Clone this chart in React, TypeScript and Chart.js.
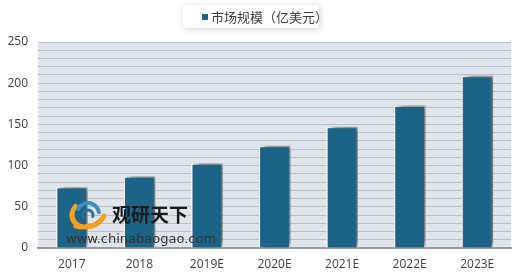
import React, { useEffect, useRef } from "react";
import { Chart, registerables } from "chart.js";

Chart.register(...registerables);

const categories = ["2017", "2018", "2019E", "2020E", "2021E", "2022E", "2023E"];
const marketSize = [74, 87, 103, 124, 147, 173, 209];
const seriesLabel = "市场规模（亿美元）";
const yTickLabels = [0, 50, 100, 150, 200, 250];
const watermarkTitle = "观研天下";
const watermarkUrl = "www.chinabaogao.com";

const BAR = "#1b6487";

const decorPlugin = {
  id: "decor",
  beforeDraw(chart: any) {
    const { ctx, chartArea } = chart;
    ctx.save();
    ctx.fillStyle = "#ffffff";
    ctx.fillRect(0, 0, chart.width, chart.height);
    ctx.fillStyle = "#dfe5ea";
    ctx.fillRect(chartArea.left, chartArea.top, chartArea.right - chartArea.left, chartArea.bottom - chartArea.top);
    // legend box
    ctx.shadowColor = "rgba(0,0,0,0.18)";
    ctx.shadowBlur = 6;
    ctx.shadowOffsetX = 1;
    ctx.shadowOffsetY = 1;
    ctx.fillStyle = "#ffffff";
    ctx.fillRect(183, 5, 136, 23);
    ctx.restore();
    ctx.save();
    ctx.fillStyle = BAR;
    ctx.fillRect(202, 14, 6, 6);
    ctx.fillStyle = "#404040";
    ctx.font = "13px 'Noto Sans CJK SC'";
    ctx.textBaseline = "middle";
    ctx.fillText(chart.data.datasets[0].label, 211, 17.5);
    ctx.restore();
  },
  beforeDatasetsDraw(chart: any) {
    const ctx = chart.ctx;
    ctx.save();
    ctx.shadowColor = "rgba(30,30,30,0.65)";
    ctx.shadowBlur = 6;
    ctx.shadowOffsetX = 4;
    ctx.shadowOffsetY = -2;
  },
  afterDatasetsDraw(chart: any) {
    const ctx = chart.ctx;
    ctx.restore();
    // watermark
    ctx.save();
    ctx.lineCap = "round";
    ctx.strokeStyle = "#f4a021";
    ctx.lineWidth = 5;
    ctx.beginPath();
    ctx.arc(84, 215, 12, Math.PI * 0.55, Math.PI * 1.25);
    ctx.stroke();
    ctx.beginPath();
    ctx.moveTo(76, 226);
    ctx.quadraticCurveTo(96, 230, 104, 216);
    ctx.stroke();
    ctx.strokeStyle = "#3a8fc4";
    ctx.lineWidth = 4;
    ctx.beginPath();
    ctx.arc(88, 214, 11, Math.PI * 1.15, Math.PI * 1.95);
    ctx.stroke();
    ctx.strokeStyle = "#2a6f9e";
    ctx.lineWidth = 3;
    ctx.beginPath();
    ctx.arc(88, 215, 5, Math.PI * 0.9, Math.PI * 2.1);
    ctx.stroke();
    ctx.fillStyle = "#1a1a1a";
    ctx.font = "bold 19px 'Noto Sans CJK SC'";
    ctx.textBaseline = "middle";
    ctx.fillText(watermarkTitle, 112, 215);
    ctx.fillStyle = "#333333";
    ctx.font = "13px 'DejaVu Sans'";
    ctx.fillText(watermarkUrl, 66, 240);
    ctx.restore();
  },
};

export default function App() {
  const ref = useRef<HTMLCanvasElement>(null);
  useEffect(() => {
    document.body.style.margin = "0";
    const chart = new Chart(ref.current!, {
      type: "bar",
      data: {
        labels: categories,
        datasets: [
          {
            label: seriesLabel,
            data: marketSize,
            backgroundColor: BAR,
            borderColor: "#ffffff",
            borderWidth: 1.5,
            barPercentage: 0.47,
            categoryPercentage: 1,
          },
        ],
      },
      options: {
        animation: false,
        responsive: false,
        devicePixelRatio: 1,
        layout: { padding: { top: 42, right: 9, left: 0, bottom: 0 } },
        plugins: { legend: { display: false }, tooltip: { enabled: false } },
        scales: {
          x: {
            grid: { display: false, drawTicks: false },
            border: { color: "#9a9a9a", width: 2 },
            ticks: { color: "#404040", font: { family: "'Open Sans'", size: 12 }, padding: 9 },
            afterFit(scale: any) {
              scale.height = 30;
            },
          },
          y: {
            min: 0,
            max: 250,
            grid: { color: "#b9c0c7", lineWidth: 1, drawTicks: false },
            border: { display: false },
            ticks: {
              stepSize: 10,
              autoSkip: false,
              color: "#404040",
              font: { family: "'Open Sans'", size: 12 },
              padding: 10,
              callback: (v: any) => (yTickLabels.includes(Number(v)) ? String(v) : ""),
            },
            afterFit(scale: any) {
              scale.width = 38;
            },
          },
        },
      },
      plugins: [decorPlugin],
    });
    return () => chart.destroy();
  }, []);
  return <canvas ref={ref} width={520} height={278} />;
}
